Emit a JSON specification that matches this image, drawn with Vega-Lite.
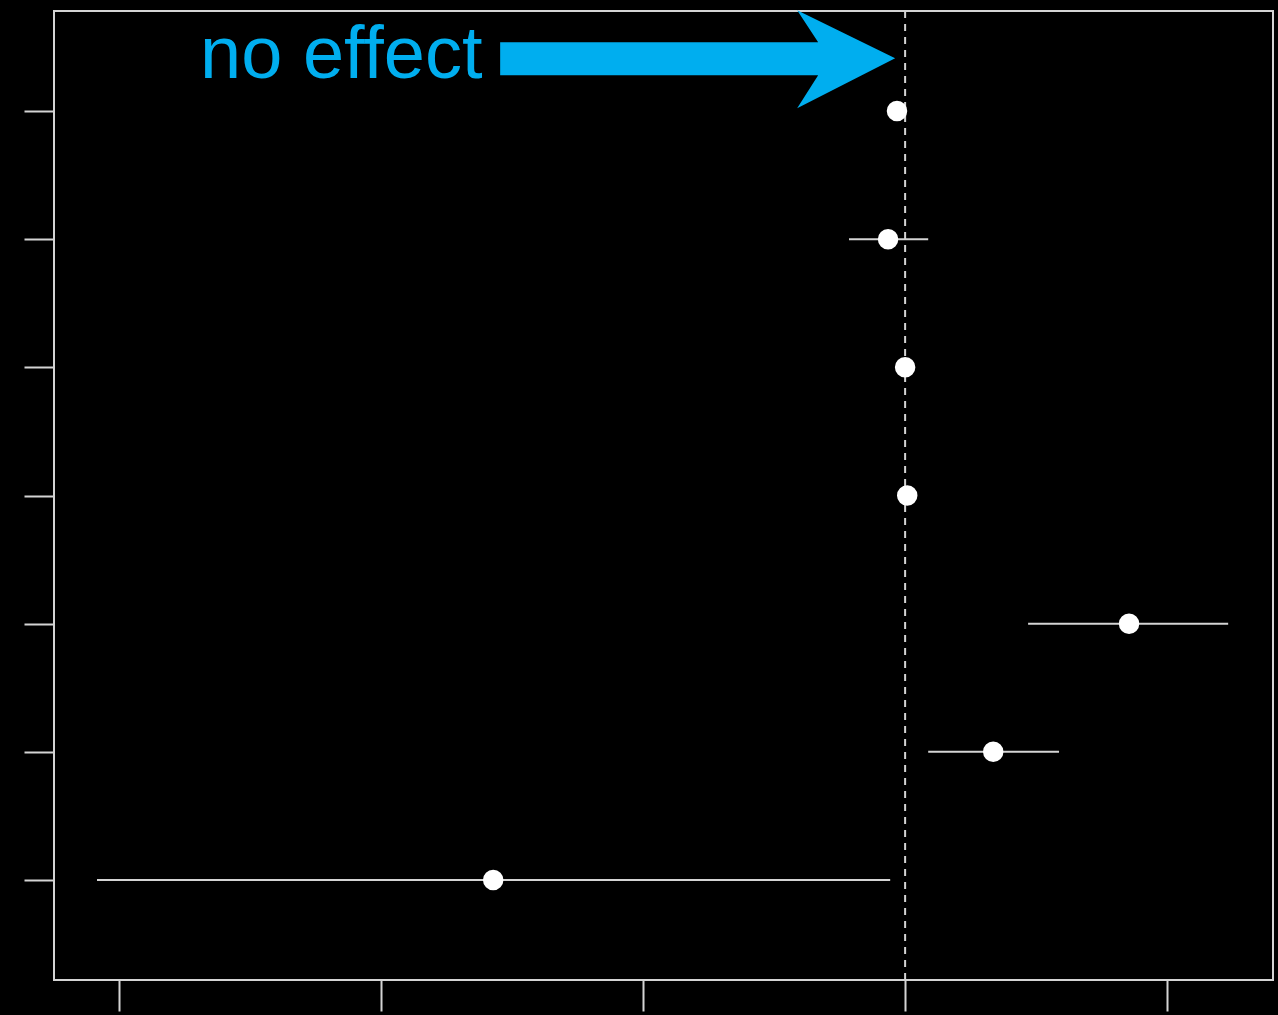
{
  "$schema": "https://vega.github.io/schema/vega-lite/v6.json",
  "width": 1219,
  "height": 969,
  "autosize": {"type": "none"},
  "padding": {"left": 54, "top": 11, "right": 5, "bottom": 35},
  "background": "#000000",
  "config": {
    "view": {"stroke": "#d4d4d4", "strokeWidth": 2, "fill": "#000000"},
    "axis": {"grid": false, "domain": false, "labels": false, "title": null, "tickColor": "#d4d4d4", "tickWidth": 2}
  },
  "datasets": {
    "est": [
      {"row": 7, "est": -0.031, "lo": -0.04, "hi": -0.02},
      {"row": 6, "est": -0.065, "lo": -0.214, "hi": 0.088},
      {"row": 5, "est": 0.0, "lo": -0.01, "hi": 0.01},
      {"row": 4, "est": 0.008, "lo": 0.0, "hi": 0.016},
      {"row": 3, "est": 0.854, "lo": 0.469, "hi": 1.232},
      {"row": 2, "est": 0.336, "lo": 0.088, "hi": 0.587},
      {"row": 1, "est": -1.571, "lo": -3.082, "hi": -0.057}
    ],
    "ref": [{"x": 0}],
    "note": [{"x": -2.689, "y": 7.256, "label": "no effect", "tipx": -0.038, "tipy": 7.412}]
  },
  "layer": [
    {
      "data": {"name": "ref"},
      "mark": {"type": "rule", "color": "#d4d4d4", "strokeWidth": 2, "strokeDash": [7, 6]},
      "encoding": {
        "x": {"field": "x", "type": "quantitative", "scale": {"domain": [-3.246, 1.403], "nice": false, "zero": false},
          "axis": {"values": [-3, -2, -1, 0, 1], "tickSize": 31, "orient": "bottom"}}
      }
    },
    {
      "data": {"name": "est"},
      "mark": {"type": "rule", "color": "#d4d4d4", "strokeWidth": 2},
      "encoding": {
        "y": {"field": "row", "type": "quantitative", "scale": {"domain": [0.22, 7.78], "nice": false, "zero": false},
          "axis": {"values": [1, 2, 3, 4, 5, 6, 7], "tickSize": 30, "orient": "left"}},
        "x": {"field": "lo", "type": "quantitative"},
        "x2": {"field": "hi"}
      }
    },
    {
      "data": {"name": "est"},
      "mark": {"type": "point", "shape": "circle", "filled": true, "color": "#ffffff", "opacity": 1, "size": 420},
      "encoding": {
        "y": {"field": "row", "type": "quantitative"},
        "x": {"field": "est", "type": "quantitative"}
      }
    },
    {
      "data": {"name": "note"},
      "mark": {"type": "point", "filled": true, "color": "#00AEEF", "opacity": 1, "size": 4,
        "shape": "M0,0 L-98,-48 L-77,-16 L-395,-16 L-395,17 L-77,17 L-98,50 Z"},
      "encoding": {
        "x": {"field": "tipx", "type": "quantitative"},
        "y": {"field": "tipy", "type": "quantitative"}
      }
    },
    {
      "data": {"name": "note"},
      "mark": {"type": "text", "color": "#00AEEF", "font": "Liberation Sans", "fontSize": 74, "align": "left", "baseline": "alphabetic"},
      "encoding": {
        "x": {"field": "x", "type": "quantitative"},
        "y": {"field": "y", "type": "quantitative"},
        "text": {"field": "label"}
      }
    }
  ]
}
